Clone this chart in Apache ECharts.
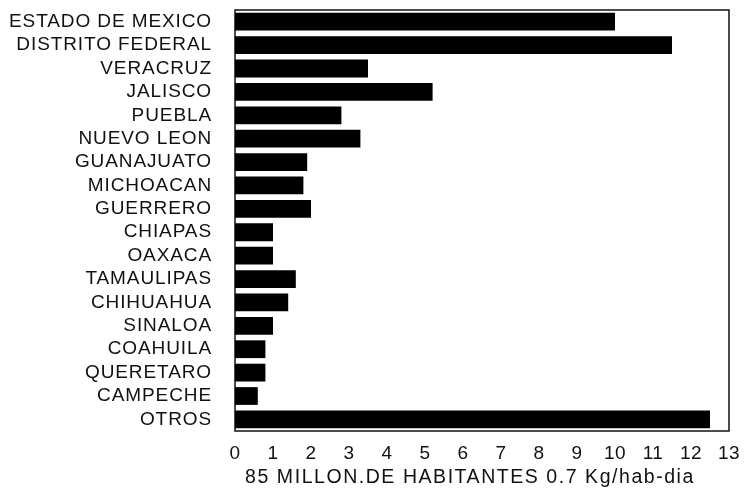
<!DOCTYPE html>
<html>
<head>
<meta charset="utf-8">
<script src="https://cdn.jsdelivr.net/npm/echarts@6/dist/echarts.min.js"></script>
<style>
html,body{margin:0;padding:0;background:#fff;}
#c{width:745px;height:493px;}
</style>
</head>
<body>
<div id="c"></div>
<script>
const categories = ["ESTADO DE MEXICO","DISTRITO FEDERAL","VERACRUZ","JALISCO","PUEBLA","NUEVO LEON","GUANAJUATO","MICHOACAN","GUERRERO","CHIAPAS","OAXACA","TAMAULIPAS","CHIHUAHUA","SINALOA","COAHUILA","QUERETARO","CAMPECHE","OTROS"];
const values = [10.0,11.5,3.5,5.2,2.8,3.3,1.9,1.8,2.0,1.0,1.0,1.6,1.4,1.0,0.8,0.8,0.6,12.5];
const xTicks = [0,1,2,3,4,5,6,7,8,9,10,11,12,13];
const xName = "85 MILLON.DE HABITANTES 0.7 Kg/hab-dia";

// letter spacing to mimic the widely tracked lettering of the original
const origFill = CanvasRenderingContext2D.prototype.fillText;
CanvasRenderingContext2D.prototype.fillText = function(t,x,y,m){
  let ls = "0px";
  if (t === xName) ls = "1.55px";
  else if (categories.indexOf(t) >= 0) ls = "0.9px";
  else if (/^\d+$/.test(t)) ls = "0.5px";
  if ('letterSpacing' in this) this.letterSpacing = ls;
  return m === undefined ? origFill.call(this,t,x,y) : origFill.call(this,t,x,y,m);
};

const font = "Liberation Sans";
const chart = echarts.init(document.getElementById('c'), null, {renderer:'canvas'});
chart.setOption({
  animation:false,
  backgroundColor:'#fff',
  grid:{left:235,right:16,top:10,bottom:61,show:true,borderColor:'#111',borderWidth:1.5,backgroundColor:'transparent'},
  xAxis:{
    type:'value',min:xTicks[0],max:xTicks[xTicks.length-1],interval:1,
    axisLine:{show:false},axisTick:{show:false},splitLine:{show:false},
    axisLabel:{color:'#111',fontFamily:font,fontSize:19,margin:13,showMaxLabel:true,showMinLabel:true},
    name:xName,nameLocation:'middle',nameGap:33,
    nameTextStyle:{color:'#111',fontFamily:font,fontSize:19.5,padding:[0,24,0,0]}
  },
  yAxis:{
    type:'category',data:categories,inverse:true,
    axisLine:{show:false},axisTick:{show:false},splitLine:{show:false},
    axisLabel:{color:'#111',fontFamily:font,fontSize:19,margin:23,interval:0}
  },
  series:[{
    type:'bar',data:values,barCategoryGap:'24%',
    itemStyle:{color:'#000'}
  }]
});
</script>
</body>
</html>
